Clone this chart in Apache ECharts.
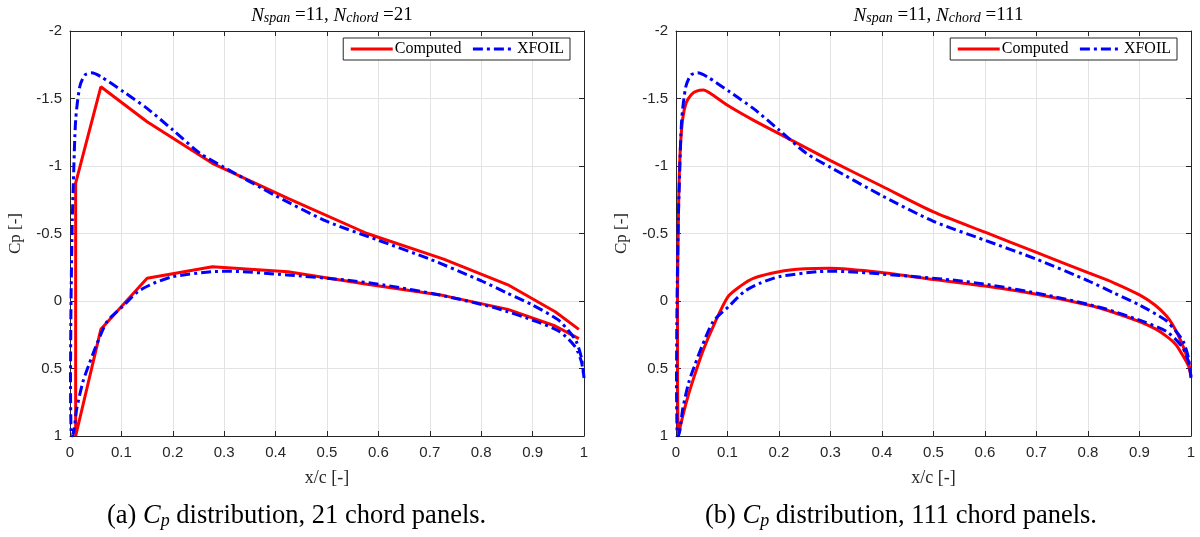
<!DOCTYPE html>
<html>
<head>
<meta charset="utf-8">
<title>Cp distribution</title>
<script src="https://cdn.jsdelivr.net/npm/echarts@6/dist/echarts.min.js"></script>
<style>
  html, body { margin: 0; padding: 0; background: #ffffff; }
  #chart { width: 1200px; height: 537px; }
</style>
</head>
<body>
<div id="chart"></div>
<script>
// ---- Data ----------------------------------------------------------------
// Computed Cp, 21 chord panels (path: upper surface TE -> LE, then lower LE -> TE)
const cmp21X  = [0.99, 0.944, 0.852, 0.727, 0.578, 0.424, 0.277, 0.15, 0.06, 0.011,
                 0.011, 0.06, 0.15, 0.277, 0.424, 0.578, 0.727, 0.852, 0.944, 0.99];
const cmp21Cp = [0.21, 0.08, -0.12, -0.31, -0.50, -0.76, -1.02, -1.328, -1.587, -0.874,
                 1.0, 0.21, -0.168, -0.254, -0.217, -0.124, -0.04, 0.062, 0.185, 0.279];

// Computed Cp, 111 chord panels
const cmp111X  = [1.0, 0.995, 0.982, 0.965, 0.952, 0.93, 0.9, 0.85, 0.8, 0.7, 0.6, 0.5, 0.4,
                  0.3, 0.2, 0.15, 0.1, 0.07, 0.053, 0.04, 0.03, 0.02, 0.013, 0.008, 0.005,
                  0.003, 0.003, 0.004,
                  0.005, 0.01, 0.02, 0.031, 0.053, 0.075, 0.101, 0.125, 0.15, 0.2, 0.25,
                  0.298, 0.402, 0.5, 0.6, 0.7, 0.8, 0.85, 0.9, 0.93, 0.952, 0.97, 0.982, 0.995, 1.0];
const cmp111Cp = [0.56, 0.45, 0.31, 0.18, 0.11, 0.03, -0.045, -0.135, -0.21, -0.36, -0.51, -0.66, -0.85,
                  -1.04, -1.24, -1.34, -1.45, -1.53, -1.563, -1.555, -1.53, -1.47, -1.35, -1.1, -0.7,
                  0.0, 0.6, 0.95,
                  0.976, 0.9, 0.75, 0.61, 0.363, 0.165, -0.032, -0.11, -0.168, -0.217, -0.238,
                  -0.242, -0.21, -0.16, -0.111, -0.05, 0.03, 0.085, 0.153, 0.205, 0.26, 0.32, 0.39, 0.48, 0.56];

// XFOIL reference Cp (same airfoil in both panels)
const xfX  = [1.0, 0.995, 0.985, 0.97, 0.95, 0.9, 0.85, 0.8, 0.7, 0.6, 0.5, 0.4, 0.3, 0.253,
              0.2, 0.15, 0.104, 0.062, 0.042, 0.029, 0.019, 0.011, 0.0065, 0.0045, 0.002, 0.001, 0.002,
              0.004, 0.008, 0.013, 0.025, 0.037, 0.05, 0.072, 0.102, 0.132, 0.162, 0.2, 0.275,
              0.31, 0.422, 0.535, 0.61, 0.72, 0.83, 0.908, 0.953, 0.983, 0.995, 1.0];
const xfCp = [0.57, 0.42, 0.3, 0.22, 0.14, 0.03, -0.06, -0.15, -0.31, -0.45, -0.59, -0.78, -0.99, -1.094,
              -1.267, -1.427, -1.55, -1.657, -1.69, -1.674, -1.587, -1.34, -0.87, -0.6, 0.0, 0.6, 0.95,
              1.0, 0.95, 0.8, 0.6, 0.47, 0.34, 0.153, 0.042, -0.069, -0.13, -0.18, -0.217,
              -0.22, -0.193, -0.156, -0.119, -0.044, 0.054, 0.153, 0.227, 0.34, 0.45, 0.57];

const xTicks = [0, 0.1, 0.2, 0.3, 0.4, 0.5, 0.6, 0.7, 0.8, 0.9, 1];
const yTicks = [-2, -1.5, -1, -0.5, 0, 0.5, 1];

const panelTitles = [['11', '21'], ['11', '111']];
const captions = [['(a)', '21'], ['(b)', '111']];

// ---- Helpers -------------------------------------------------------------
const pair = (xs, ys) => xs.map((x, i) => [x, ys[i]]);

const AXIS_COLOR = '#262626';
const GRID_COLOR = '#e3e3e3';
const SANS = '"Liberation Sans", Arial, Helvetica, sans-serif';
const SERIF = '"Liberation Serif", "Times New Roman", serif';

const grids = [
  { left: 70,  top: 31, width: 514, height: 405 },
  { left: 676, top: 31, width: 515, height: 405 }
];

const xAxes = [];
const yAxes = [];
grids.forEach((g, gi) => {
  // bottom axis with labels + grid lines
  xAxes.push({
    gridIndex: gi, type: 'value', position: 'bottom',
    min: xTicks[0], max: xTicks[xTicks.length - 1], interval: xTicks[1] - xTicks[0],
    name: 'x/c [-]', nameLocation: 'middle', nameGap: 33,
    nameTextStyle: { fontFamily: SERIF, fontSize: 18, color: AXIS_COLOR },
    axisLine: { show: true, onZero: false, lineStyle: { color: AXIS_COLOR, width: 1 } },
    axisTick: { show: true, inside: true, length: 5, lineStyle: { color: AXIS_COLOR } },
    axisLabel: { fontFamily: SANS, fontSize: 15, color: AXIS_COLOR, margin: 9 },
    splitLine: { show: true, lineStyle: { color: GRID_COLOR, width: 1 } }
  });
  // top box edge with inner ticks
  xAxes.push({
    gridIndex: gi, type: 'value', position: 'top',
    min: xTicks[0], max: xTicks[xTicks.length - 1], interval: xTicks[1] - xTicks[0],
    axisLine: { show: true, onZero: false, lineStyle: { color: AXIS_COLOR, width: 1 } },
    axisTick: { show: true, inside: true, length: 5, lineStyle: { color: AXIS_COLOR } },
    axisLabel: { show: false },
    splitLine: { show: false }
  });
  // left axis (Cp, reversed)
  yAxes.push({
    gridIndex: gi, type: 'value', position: 'left', inverse: true,
    min: yTicks[0], max: yTicks[yTicks.length - 1], interval: yTicks[1] - yTicks[0],
    name: 'Cp [-]', nameLocation: 'middle', nameGap: 46,
    nameTextStyle: { fontFamily: SERIF, fontSize: 17, color: AXIS_COLOR },
    axisLine: { show: true, onZero: false, lineStyle: { color: AXIS_COLOR, width: 1 } },
    axisTick: { show: true, inside: true, length: 5, lineStyle: { color: AXIS_COLOR } },
    axisLabel: { fontFamily: SANS, fontSize: 15, color: AXIS_COLOR, margin: 8 },
    splitLine: { show: true, lineStyle: { color: GRID_COLOR, width: 1 } }
  });
  // right box edge with inner ticks
  yAxes.push({
    gridIndex: gi, type: 'value', position: 'right', inverse: true,
    min: yTicks[0], max: yTicks[yTicks.length - 1], interval: yTicks[1] - yTicks[0],
    axisLine: { show: true, onZero: false, lineStyle: { color: AXIS_COLOR, width: 1 } },
    axisTick: { show: true, inside: true, length: 5, lineStyle: { color: AXIS_COLOR } },
    axisLabel: { show: false },
    splitLine: { show: false }
  });
});

const DASH_DOT = [10, 4, 3, 4];
const computedStyle = { color: '#ff0000', width: 3 };
const xfoilStyle = { color: '#0000ff', width: 3, type: DASH_DOT };

function lineSeries(name, gi, data, style, smooth) {
  return {
    name, type: 'line', xAxisIndex: gi * 2, yAxisIndex: gi * 2,
    data, showSymbol: false, symbol: 'none', smooth: smooth,
    lineStyle: style, itemStyle: { color: style.color },
    animation: false, z: name === 'XFOIL' ? 3 : 2
  };
}

const series = [
  lineSeries('Computed', 0, pair(cmp21X, cmp21Cp), computedStyle, false),
  lineSeries('XFOIL', 0, pair(xfX, xfCp), xfoilStyle, 0.25),
  lineSeries('Computed', 1, pair(cmp111X, cmp111Cp), computedStyle, 0.25),
  lineSeries('XFOIL', 1, pair(xfX, xfCp), xfoilStyle, 0.25)
];

const titleRich = {
  n:   { fontFamily: SERIF, fontStyle: 'italic', fontWeight: 'normal', fontSize: 19, color: '#000', lineHeight: 20, verticalAlign: 'top' },
  sub: { fontFamily: SERIF, fontStyle: 'italic', fontWeight: 'normal', fontSize: 14, color: '#000', lineHeight: 20, verticalAlign: 'top', padding: [5, 0, 0, 0] },
  t:   { fontFamily: SERIF, fontWeight: 'normal', fontSize: 19, color: '#000', lineHeight: 20, verticalAlign: 'top' }
};

const titles = grids.map((g, gi) => ({
  left: g.left + g.width / 2, top: 1, textAlign: 'center',
  text: '{n|N}{sub|span}{t| =' + panelTitles[gi][0] + ', }{n|N}{sub|chord}{t| =' + panelTitles[gi][1] + '}',
  textStyle: { fontWeight: 'normal', rich: titleRich }
}));

const legends = [
  { right: 1200 - 570, top: 38 },
  { right: 1200 - 1177, top: 38 }
].map(pos => ({
  right: pos.right, top: pos.top, orient: 'horizontal',
  data: ['Computed', 'XFOIL'],
  itemWidth: 42, itemHeight: 14, itemGap: 10,
  padding: [3, 6, 3, 6],
  backgroundColor: '#ffffff', borderColor: AXIS_COLOR, borderWidth: 1, borderRadius: 0,
  itemStyle: { opacity: 0 },
  lineStyle: { width: 3 },
  textStyle: { fontFamily: SERIF, fontSize: 16, color: '#000', padding: [0, 0, 0, -3] },
  selectedMode: false
}));

const capRich = {
  tag: { fontFamily: SERIF, fontSize: 26.5, color: '#5f86ad' },
  c:   { fontFamily: SERIF, fontSize: 26.5, fontStyle: 'italic', color: '#111' },
  p:   { fontFamily: SERIF, fontSize: 18, fontStyle: 'italic', color: '#111', padding: [10, 0, 0, 0] },
  t:   { fontFamily: SERIF, fontSize: 26.5, color: '#111' }
};
const graphics = captions.map((cap, i) => ({
  type: 'text', left: i === 0 ? 107 : 705, top: 503,
  style: {
    text: '{tag|' + cap[0] + '}{c| C}{p|p}{t| distribution, ' + cap[1] + ' chord panels.}',
    rich: capRich
  }
}));

const chart = echarts.init(document.getElementById('chart'), null, { renderer: 'canvas' });
chart.setOption({
  animation: false,
  backgroundColor: '#ffffff',
  title: titles,
  legend: legends,
  grid: grids,
  xAxis: xAxes,
  yAxis: yAxes,
  series: series,
  graphic: graphics
});
</script>
</body>
</html>
